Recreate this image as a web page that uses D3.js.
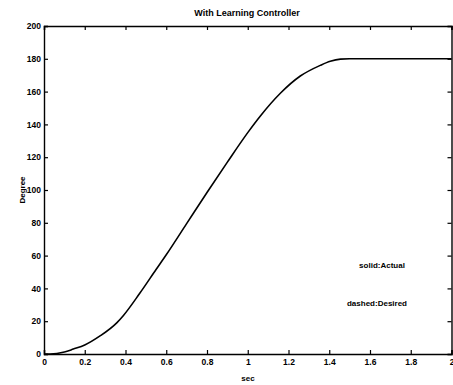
<!DOCTYPE html>
<html><head><meta charset="utf-8">
<script src="https://cdn.jsdelivr.net/npm/d3@7"></script>
<style>
html,body{margin:0;padding:0;background:#fff;}
svg text{font-family:"Liberation Sans",Arial,sans-serif;font-weight:bold;fill:#000;}
</style></head>
<body>
<svg id="c" width="453" height="385"></svg>
<script>
const timeSec = [0, 0.03, 0.1, 0.144, 0.2, 0.275, 0.357, 0.39, 0.47, 0.55, 0.6, 0.7, 0.8, 0.9, 1.0, 1.061, 1.16, 1.258, 1.356, 1.405, 1.455, 1.5, 2.0];
const actualDeg = [0, 0, 1.2, 3, 5.5, 11, 19, 23.5, 37, 51.5, 60.5, 79.5, 98.5, 117, 135, 145, 159, 169.5, 176, 178.5, 179.8, 180, 180];
const xTicks = [0, 0.2, 0.4, 0.6, 0.8, 1, 1.2, 1.4, 1.6, 1.8, 2];
const yTicks = [0, 20, 40, 60, 80, 100, 120, 140, 160, 180, 200];
const titleText = "With Learning Controller";
const xLabel = "sec";
const yLabel = "Degree";
const legendLines = ["solid:Actual", "dashed:Desired"];

const svg = d3.select("#c");
const L = 44, R = 451.5, T = 26, B = 354;
const x = d3.scaleLinear().domain([0, 2]).range([L, R]);
const y = d3.scaleLinear().domain([0, 200]).range([B, T]);

const fmt = d => String(d);
const gB = svg.append("g").attr("transform", `translate(0,${B})`)
  .call(d3.axisBottom(x).tickValues(xTicks).tickFormat(fmt).tickSize(-4).tickPadding(5));
const gT = svg.append("g").attr("transform", `translate(0,${T})`)
  .call(d3.axisTop(x).tickValues(xTicks).tickFormat("").tickSize(-4));
const gL = svg.append("g").attr("transform", `translate(${L},0)`)
  .call(d3.axisLeft(y).tickValues(yTicks).tickFormat(fmt).tickSize(-4).tickPadding(3));
const gR = svg.append("g").attr("transform", `translate(${R},0)`)
  .call(d3.axisRight(y).tickValues(yTicks).tickFormat("").tickSize(-4));
[gB, gT, gL, gR].forEach(g => {
  g.select(".domain").attr("stroke", "#000").attr("stroke-width", 1.4);
  g.selectAll(".tick line").attr("stroke", "#000").attr("stroke-width", 1.2);
  g.selectAll("text").attr("font-size", 8.5).attr("font-family", "Liberation Sans, Arial, sans-serif").attr("font-weight", "bold").attr("fill", "#000");
});
gB.selectAll("text").attr("dy", "0.71em");

const line = d3.line().x((d, i) => x(timeSec[i])).y(d => y(d)).curve(d3.curveMonotoneX);
svg.append("path").datum(actualDeg).attr("d", line)
  .attr("fill", "none").attr("stroke", "#000").attr("stroke-width", 1.6);

svg.append("text").attr("x", 247).attr("y", 16).attr("text-anchor", "middle").attr("font-size", 9).text(titleText);
svg.append("text").attr("x", 248).attr("y", 381).attr("text-anchor", "middle").attr("font-size", 8).text(xLabel);
svg.append("text").attr("transform", "translate(25,190) rotate(-90)").attr("text-anchor", "middle").attr("font-size", 8).text(yLabel);

svg.append("text").attr("x", 382).attr("y", 268).attr("text-anchor", "middle").attr("font-size", 8).text(legendLines[0]);
svg.append("text").attr("x", 377).attr("y", 306).attr("text-anchor", "middle").attr("font-size", 8).text(legendLines[1]);
</script>
</body></html>
